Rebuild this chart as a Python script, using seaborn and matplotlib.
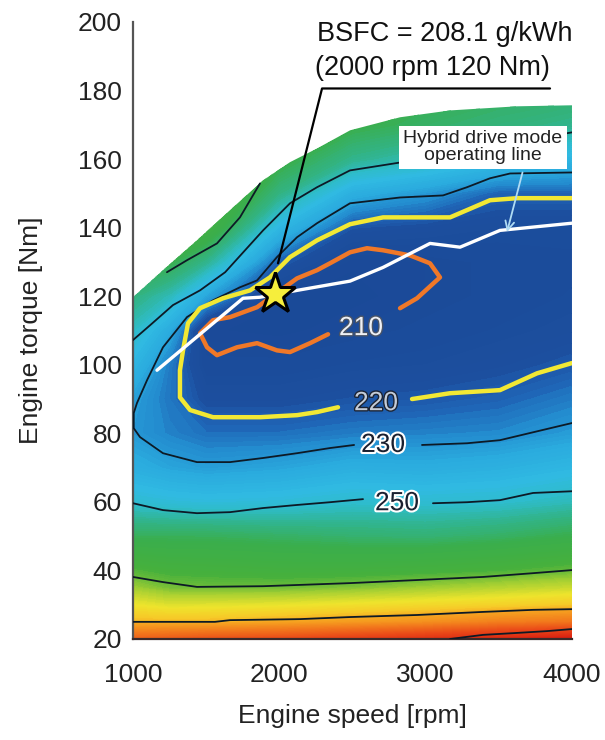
import numpy as np
import matplotlib
matplotlib.use("Agg")
import matplotlib.pyplot as plt
import matplotlib.patheffects as pe
from matplotlib.colors import LinearSegmentedColormap
from matplotlib.patches import Polygon
from matplotlib.ticker import FixedLocator
import seaborn as sns

sns.set_theme(style="white")
plt.rcParams["font.family"] = ["Liberation Sans", "DejaVu Sans"]

# ---- BSFC field (g/kWh), one list per engine speed ----
rpm_nodes = [1000, 1250, 1500, 2000, 2500, 3000, 3500, 4000]
torque_nodes = [20, 25, 30, 35, 40, 50, 60, 70, 80, 90, 100, 110, 120, 130, 140, 150, 160, 170, 180]
bsfc_1000 = [395, 350, 330, 310, 297, 272, 250, 238, 231, 233, 242, 253, 265, 280, 290, 295, 300, 300, 300]
bsfc_1250 = [400, 350, 325, 303, 293, 272, 248, 234, 227, 225, 226, 236, 255, 275, 290, 295, 300, 300, 300]
bsfc_1500 = [405, 350, 326, 302, 292, 272, 247, 232, 224, 217, 212, 209, 234, 262, 285, 295, 300, 300, 300]
bsfc_2000 = [410, 355, 328, 302, 290, 270, 248, 234, 224, 217, 212, 208, 209, 221, 243, 264, 278, 288, 292]
bsfc_2500 = [420, 360, 332, 305, 290, 268, 251, 238, 226, 219, 214, 210, 208, 209, 219, 238, 262, 276, 282]
bsfc_3000 = [430, 366, 336, 310, 292, 267, 250, 237, 227, 220, 215, 212, 210, 210, 217, 231, 255, 270, 276]
bsfc_3500 = [440, 376, 340, 315, 295, 270, 251, 239, 228, 222, 217, 214, 212, 212, 215, 222, 246, 266, 272]
bsfc_4000 = [450, 382, 345, 320, 300, 275, 255, 243, 232, 226, 220, 216, 214, 213, 215, 222, 242, 262, 270]

# full-load (max torque) curve
wot_rpm = [1000, 1205, 1437, 1663, 1889, 2073, 2258, 2484, 2825, 3167, 3625, 4000]
wot_nm = [119.7, 127.6, 136.3, 145.1, 153.8, 159.1, 163.1, 168.4, 172.2, 174.2, 175.4, 175.7]

# iso-BSFC lines
c210_rpm = [2333, 2210, 2073, 1984, 1848, 1711, 1574, 1506, 1458, 1547, 1663, 1848, 2121, 2258, 2346,
            2483, 2599, 2709, 2893, 3030, 3098, 2941, 2825]
c210_nm = [108.9, 106.3, 103.7, 104.2, 106.3, 105.1, 102.8, 105.1, 109.2, 113.0, 113.9, 116.8, 125.2, 127.6,
           129.6, 132.8, 134.0, 133.4, 131.9, 129.6, 125.5, 119.4, 116.5]
c220a_rpm = [4000, 3625, 3440, 3167, 2709, 2483, 2258, 2073, 1936, 1800, 1615, 1458, 1376, 1342, 1321,
             1321, 1390, 1547, 1868, 2121, 2258, 2401]
c220a_nm = [148.6, 148.6, 148.0, 143.0, 143.0, 141.0, 136.3, 131.4, 125.5, 121.7, 119.4, 116.5, 112.1,
            104.2, 98.4, 90.5, 86.8, 84.7, 84.7, 85.3, 86.2, 87.6]
c220b_rpm = [2907, 3167, 3508, 3761, 4000]
c220b_nm = [90.0, 91.7, 92.6, 97.5, 100.5]
c230a_rpm = [4000, 3577, 3440, 3283, 3119, 2825, 2483, 2258, 2121, 1984, 1848, 1731, 1547, 1369, 1205,
             1096, 1027, 1005, 1005, 1048, 1205, 1437, 1663, 1889, 2121, 2346, 2511]
c230a_nm = [156.1, 155.8, 154.4, 151.8, 149.4, 148.8, 147.1, 141.3, 137.2, 131.4, 124.6, 122.6, 118.8,
            113.9, 105.1, 95.5, 88.8, 85.9, 81.5, 78.9, 74.2, 71.6, 71.6, 72.8, 74.2, 75.7, 76.6]
c230b_rpm = [2975, 3283, 3508, 3734, 4000]
c230b_nm = [76.6, 77.1, 78.0, 80.3, 83.0]
c250a_rpm = [4000, 2825, 2483, 2258, 2073, 1889, 1630, 1458, 1273, 1116, 1000]
c250a_nm = [167.8, 159.0, 156.7, 151.8, 147.1, 139.2, 127.0, 121.7, 117.4, 111.5, 107.2]
c250b_rpm = [1000, 1205, 1437, 1663, 1889, 2121, 2346, 2572]
c250b_nm = [59.6, 57.6, 56.7, 57.0, 58.2, 59.1, 59.9, 60.8]
c250c_rpm = [3050, 3283, 3508, 3734, 4000]
c250c_nm = [59.6, 59.9, 60.5, 62.6, 63.1]
c270_rpm = [1232, 1369, 1574, 1731, 1868]
c270_nm = [127.0, 130.5, 135.4, 143.0, 152.9]
c300_rpm = [1000, 1205, 1437, 1889, 2483, 2941, 3392, 3734, 4000]
c300_nm = [38.1, 36.6, 35.2, 35.4, 36.3, 37.2, 38.1, 39.2, 40.1]
c350_rpm = [1000, 1560, 1663, 2142, 2483, 2941, 3392, 3734, 4000]
c350_nm = [25.0, 25.0, 25.5, 25.8, 26.4, 27.0, 27.9, 28.5, 28.7]
c400_rpm = [3167, 3392, 3598, 3830, 4000]
c400_nm = [20.0, 21.2, 21.7, 22.3, 22.9]

# hybrid drive mode operating line
op_rpm = [1164, 1752, 1868, 2121, 2483, 2709, 3030, 3235, 3508, 4000]
op_nm = [98.4, 119.4, 119.7, 121.7, 124.4, 128.4, 135.4, 134.3, 139.2, 141.3]

best_point = (1970, 120.5)
leader_rpm = [1991, 2292, 3850]
leader_nm = [129.6, 180.6, 180.6]

# colour scale
vmin, vmax = 205, 450
stops = [(205, "#1a4896"), (218, "#1c4f9f"), (222, "#1f64b6"), (228, "#238ccf"),
         (235, "#2aaade"), (245, "#30bae2"), (252, "#2ebcca"), (262, "#31b48c"),
         (275, "#3aae4c"), (295, "#46b03c"), (312, "#a8d032"), (330, "#eee42c"),
         (345, "#f6ca28"), (356, "#f6a420"), (380, "#f27a1c"), (410, "#ea4a18"),
         (450, "#d81c10")]
cmap = LinearSegmentedColormap.from_list(
    "bsfc", [((v - vmin) / (vmax - vmin), c) for v, c in stops])

fig = plt.figure(figsize=(6.05, 7.40), dpi=100)
ax = fig.add_axes([0.2198, 0.1365, 0.7256, 0.8338])

Z = np.column_stack([bsfc_1000, bsfc_1250, bsfc_1500, bsfc_2000,
                     bsfc_2500, bsfc_3000, bsfc_3500, bsfc_4000])
cf = ax.contourf(rpm_nodes, torque_nodes, Z, levels=np.linspace(vmin, vmax, 197),
                 cmap=cmap, extend="both", antialiased=False, zorder=1)
outline = np.column_stack([[1000, 4000] + wot_rpm[::-1], [20, 20] + wot_nm[::-1]])
clip = Polygon(outline, closed=True, transform=ax.transData)
cf.set_clip_path(clip)


def iso_line(xs, ys, color, lw, z=3):
    sns.lineplot(x=xs, y=ys, sort=False, estimator=None, color=color,
                 linewidth=lw, ax=ax, zorder=z, solid_capstyle="round")


dark = "#0d1a26"
for xs, ys in [(c230a_rpm, c230a_nm), (c230b_rpm, c230b_nm), (c250a_rpm, c250a_nm),
               (c250b_rpm, c250b_nm), (c250c_rpm, c250c_nm), (c270_rpm, c270_nm),
               (c300_rpm, c300_nm), (c350_rpm, c350_nm), (c400_rpm, c400_nm)]:
    iso_line(xs, ys, dark, 1.3)
iso_line(c220a_rpm, c220a_nm, "#f2e834", 3.2)
iso_line(c220b_rpm, c220b_nm, "#f2e834", 3.2)
iso_line(c210_rpm, c210_nm, "#f07828", 3.2)
iso_line(op_rpm, op_nm, "white", 2.4, z=4)
iso_line(leader_rpm, leader_nm, "black", 1.6, z=5)

ax.plot(*best_point, marker="*", markersize=31, color="#f6ee3c",
        markeredgecolor="black", markeredgewidth=2.2, zorder=6)

# contour labels
ax.text(2558, 110.7, "210", fontsize=19, ha="center", va="center", color="#eef0f4", zorder=5,
        path_effects=[pe.withStroke(linewidth=2, foreground="#4a5466")])
ax.text(2661, 88.8, "220", fontsize=19, ha="center", va="center", color="#c4ccd8", zorder=5,
        path_effects=[pe.withStroke(linewidth=2, foreground="#1c2434")])
for x, y, s in [(2709, 76.6, "230"), (2804, 59.6, "250")]:
    ax.text(x, y, s, fontsize=19, ha="center", va="center", color="#1a2030", zorder=5,
            path_effects=[pe.withStroke(linewidth=3, foreground="white")])

ax.text(2258, 196.6, "BSFC = 208.1 g/kWh", fontsize=19.5, ha="left", va="center", color="#111")
ax.text(2244, 186.7, "(2000 rpm 120 Nm)", fontsize=19.5, ha="left", va="center", color="#111")

ax.text(3392, 163.4, "Hybrid drive mode\noperating line", fontsize=14, ha="center", va="center",
        linespacing=1.0, color="#222", zorder=6,
        bbox=dict(boxstyle="square,pad=0.25", fc="white", ec="none"))
ax.annotate("", xy=(3556, 138.7), xytext=(3662, 156.1), zorder=6,
            arrowprops=dict(arrowstyle="->", color="#b0dcf4", lw=1.3,
                            mutation_scale=16, shrinkA=0, shrinkB=0))

ax.set_xlim(1000, 4000)
ax.set_ylim(20, 200)
ax.set_xticks([1000, 2000, 3000, 4000])
ax.xaxis.set_minor_locator(FixedLocator([x for x in range(1200, 4000, 200) if x % 1000]))
ax.set_yticks(range(20, 201, 20))
ax.yaxis.set_minor_locator(FixedLocator(list(range(30, 121, 10))))
ax.tick_params(axis="x", which="major", direction="in", length=7, width=1.3,
               color="#2a2020", labelsize=19, pad=17, labelcolor="#222")
ax.tick_params(axis="x", which="minor", direction="in", length=3.5, width=1.2,
               color="#2a2020", bottom=True)
ax.tick_params(axis="y", which="major", direction="in", length=0,
               labelsize=19, pad=8, labelcolor="#222")
ax.tick_params(axis="y", which="minor", direction="in", length=4, width=1.2,
               color="#202020", left=True)

for side in ("top", "right"):
    ax.spines[side].set_visible(False)
ax.spines["left"].set_color("#555555")
ax.spines["left"].set_linewidth(1.6)
ax.spines["bottom"].set_color("#3a2a2a")
ax.spines["bottom"].set_linewidth(1.6)
ax.set_facecolor("white")

ax.set_xlabel("Engine speed [rpm]", fontsize=19, color="#222")
ax.set_ylabel("Engine torque [Nm]", fontsize=19, color="#222")
ax.xaxis.set_label_coords(0.5, -0.105)
ax.yaxis.set_label_coords(-0.205, 0.5)

fig.savefig("out.png", dpi=100)
